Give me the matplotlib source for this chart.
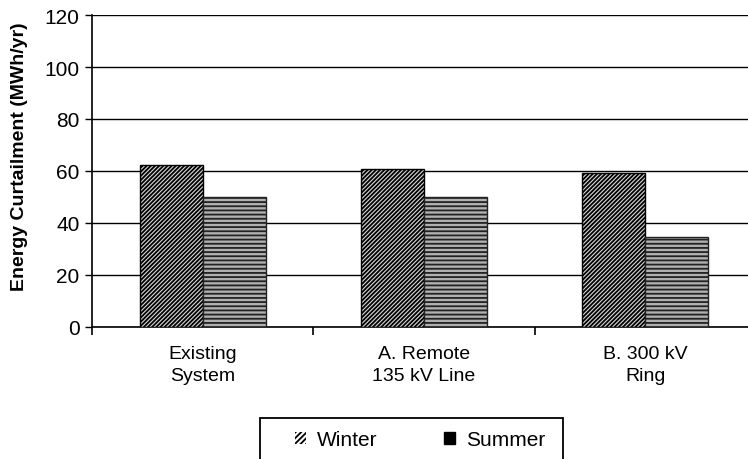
import numpy as np
import matplotlib.pyplot as plt
from matplotlib.patches import Patch, Rectangle

plt.rcParams['font.family'] = ['Liberation Sans', 'DejaVu Sans']
plt.rcParams['hatch.linewidth'] = 1.3

# data
categories = ['Existing\nSystem', 'A. Remote\n135 kV Line', 'B. 300 kV\nRing']
winter = [62.3, 60.8, 59.3]
summer = [50.0, 50.0, 34.7]
y_ticks = [0, 20, 40, 60, 80, 100, 120]

fig = plt.figure(figsize=(7.48, 4.60), dpi=100)
ax = fig.add_axes([92/748, 1-328/460, 664/748, 312/460])

x = np.arange(len(categories))
w = 0.285

ax.bar(x - w/2, winter, w, facecolor='#d8d8d8', edgecolor='black',
       hatch='////////', linewidth=1.0, zorder=3)
ax.bar(x + w/2, summer, w, facecolor='#b0b0b0', edgecolor='#222222',
       hatch='----', linewidth=1.0, zorder=3)

ax.set_xlim(-0.5, 2.5)
ax.set_ylim(0, 120)
ax.set_yticks(y_ticks)
ax.yaxis.grid(True, color='black', linewidth=1.0, zorder=0)
ax.set_axisbelow(True)

# boundary ticks as major, labels on minor ticks at centers
ax.set_xticks([-0.5, 0.5, 1.5])
ax.set_xticklabels([])
ax.set_xticks(x, minor=True)
ax.set_xticklabels(categories, minor=True, fontsize=14, linespacing=1.35)
ax.tick_params(axis='x', which='major', length=6, width=1.2, direction='out')
ax.tick_params(axis='x', which='minor', length=0, pad=13)
ax.tick_params(axis='y', length=5, width=1.0, labelsize=15, pad=4)

for s in ['top', 'right']:
    ax.spines[s].set_visible(False)
ax.spines['left'].set_linewidth(1.2)
ax.spines['bottom'].set_linewidth(1.2)

ax.set_ylabel('Energy Curtailment (MWh/yr)', fontsize=14, fontweight='bold')
ax.yaxis.set_label_coords(-0.097, 0.55)

# legend frame runs off the bottom of the picture
fig.patches.append(Rectangle((260/748, -0.05), 303/748, 0.05 + 1-419/460,
                             transform=fig.transFigure, facecolor='white',
                             edgecolor='black', linewidth=1.3))
handles = [Patch(facecolor='white', edgecolor='black', hatch='//////', linewidth=0),
           Patch(facecolor='black', edgecolor='black')]
leg = fig.legend(handles, ['Winter', 'Summer'], ncol=2, loc='center left',
                 bbox_to_anchor=(295/748, 1-441/460), frameon=False,
                 fontsize=15, handlelength=0.55, handleheight=0.55,
                 columnspacing=3.2, borderpad=0, handletextpad=0.5,
                 borderaxespad=0)

fig.savefig('out.png', dpi=100)
